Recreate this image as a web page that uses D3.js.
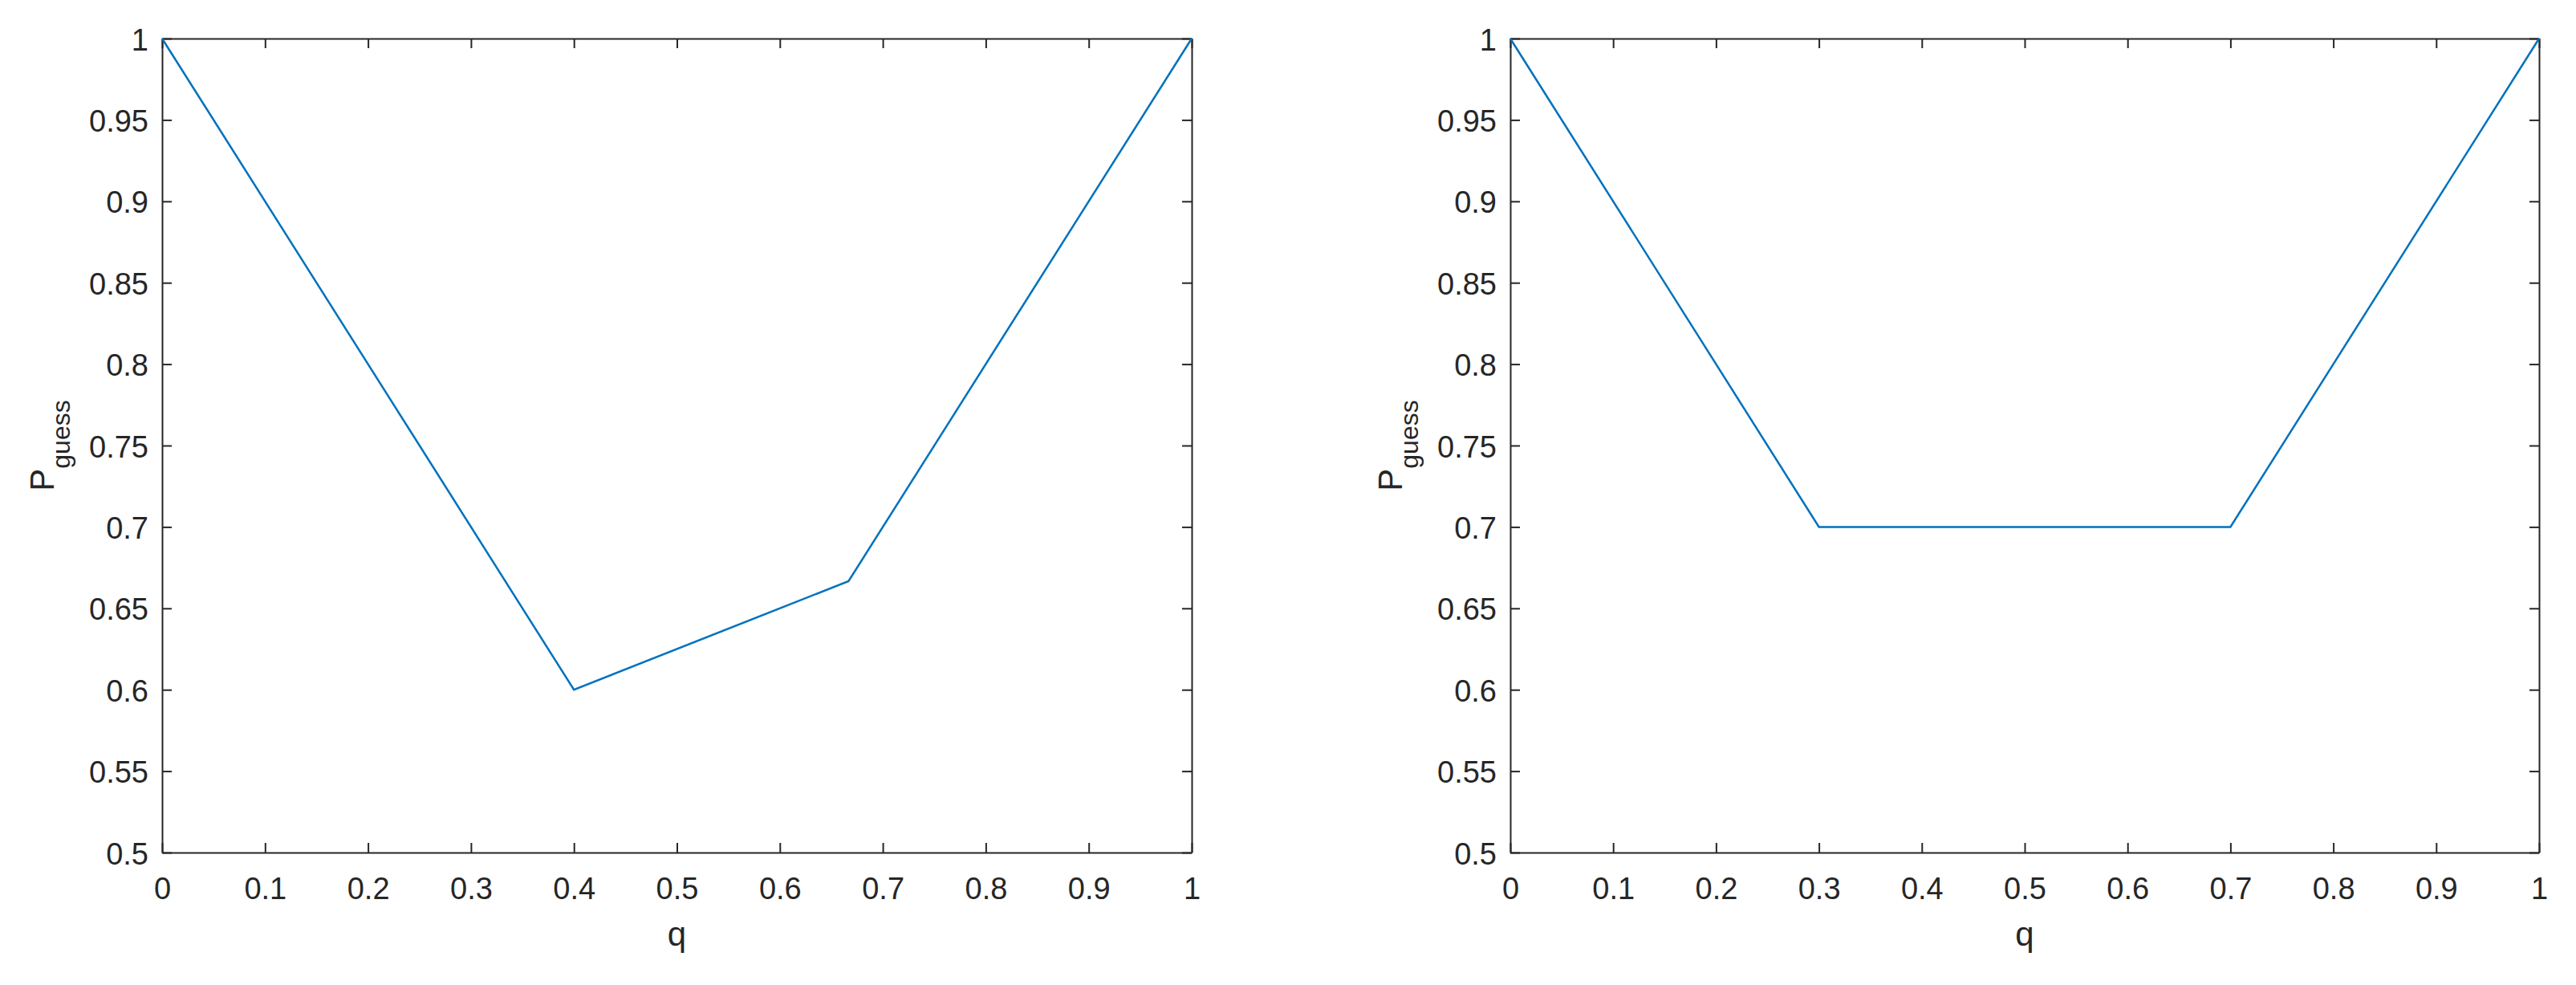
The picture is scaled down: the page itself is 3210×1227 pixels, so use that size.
<!DOCTYPE html>
<html>
<head>
<meta charset="utf-8">
<script src="https://cdn.jsdelivr.net/npm/d3@7"></script>
<style>
  body { margin: 0; background: #fff; }
  text { font-family: "Liberation Sans", Arial, sans-serif; fill: #262626; }
</style>
</head>
<body>
<div id="chart"></div>
<script>
// values
var qLeft = [0, 0.4, 0.6667, 1]
var pLeft = [1, 0.6, 0.6667, 1]
var qRight = [0, 0.3, 0.7, 1]
var pRight = [1, 0.7, 0.7, 1]
var xTicks = [0, 0.1, 0.2, 0.3, 0.4, 0.5, 0.6, 0.7, 0.8, 0.9, 1]
var yTicks = [0.5, 0.55, 0.6, 0.65, 0.7, 0.75, 0.8, 0.85, 0.9, 0.95, 1]

var W = 3210, H = 1227
var axisColor = "#262626", lineColor = "#0072BD"

var svg = d3.select("#chart")
  .append("svg")
  .attr("width", W)
  .attr("height", H)

function fmt(d) { return String(+d.toFixed(2)) }

// one panel; left/top/width/height are pixel positions of the axes box
function panel(qs, ps, left, top, width, height) {
  var x = d3.scaleLinear().domain([0, 1]).range([0, width])
  var y = d3.scaleLinear().domain([0.5, 1]).range([height, 0])

  var g = svg.append("g").attr("transform", `translate(${left},${top})`)

  var bottom = g.append("g")
    .attr("transform", `translate(0,${height})`)
    .call(d3.axisBottom(x).tickValues(xTicks).tickFormat(fmt).tickSize(-12).tickSizeOuter(0))
  bottom.selectAll("text").attr("y", 31).attr("dy", "0.71em")

  var leftAx = g.append("g")
    .call(d3.axisLeft(y).tickValues(yTicks).tickFormat(fmt).tickSize(-12).tickSizeOuter(0))
  leftAx.selectAll("text").attr("x", -17).attr("dy", "0.37em")

  g.append("g")
    .call(d3.axisTop(x).tickValues(xTicks).tickFormat("").tickSize(-12).tickSizeOuter(0))
  g.append("g")
    .attr("transform", `translate(${width},0)`)
    .call(d3.axisRight(y).tickValues(yTicks).tickFormat("").tickSize(-12).tickSizeOuter(0))

  g.selectAll(".domain").attr("stroke", axisColor).attr("stroke-width", 2)
  g.selectAll(".tick line").attr("stroke", axisColor).attr("stroke-width", 2)
  g.selectAll(".tick text")
    .style("font-family", '"Liberation Sans", Arial, sans-serif')
    .style("font-size", "38px")
    .attr("fill", axisColor)

  var line = d3.line()
    .x(function(d) { return x(d[0]) })
    .y(function(d) { return y(d[1]) })

  g.append("path")
    .attr("d", line(d3.zip(qs, ps)))
    .attr("fill", "none")
    .attr("stroke", lineColor)
    .attr("stroke-width", 2.5)
    .attr("stroke-linejoin", "miter")

  // x label
  g.append("text")
    .attr("x", width / 2)
    .attr("y", height + 116)
    .attr("text-anchor", "middle")
    .style("font-size", "42px")
    .text("q")

  // y label with subscript
  var yl = g.append("text")
    .attr("transform", `translate(-135,${height / 2}) rotate(-90)`)
    .attr("text-anchor", "middle")
    .style("font-size", "42px")
  yl.append("tspan").text("P")
  yl.append("tspan").attr("dy", 20).style("font-size", "32px").text("guess")
}

panel(qLeft, pLeft, 202, 48, 1283, 1014)
panel(qRight, pRight, 1882, 48, 1282, 1014)
</script>
</body>
</html>
